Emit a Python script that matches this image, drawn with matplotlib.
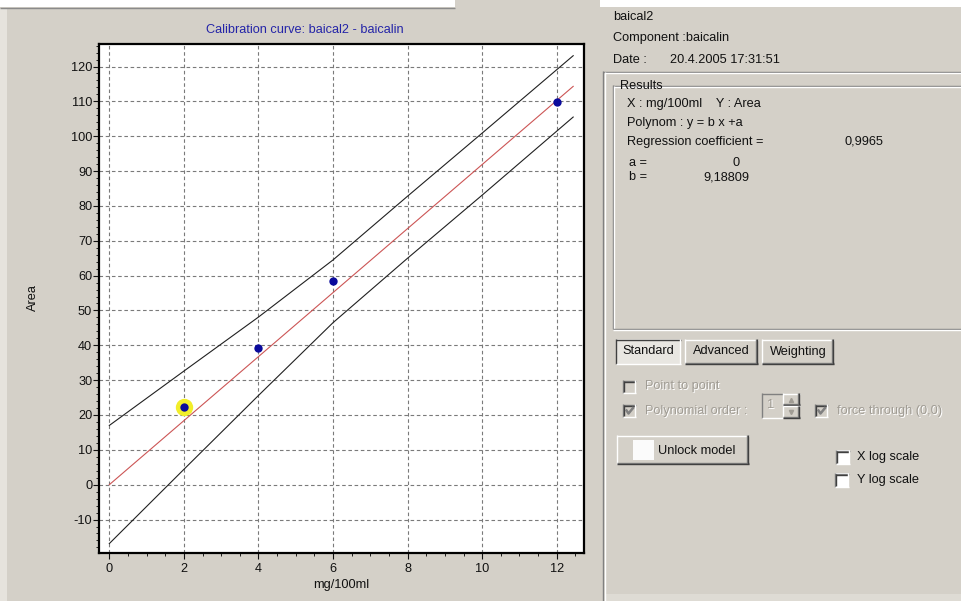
import matplotlib.pyplot as plt
from matplotlib.patches import Rectangle
from matplotlib.ticker import MultipleLocator

plt.rcParams['axes.unicode_minus'] = False

# measured points
conc = [2, 4, 6, 12]
area = [22.3, 39.1, 58.4, 109.7]
selected = 0

# regression line and confidence band
fit_x = [0, 12.44]
fit_y = [0, 114.3]
band_x = [0, 2, 4, 6, 8, 10, 12.44]
band_up = [17.0, 32.6, 48.1, 64.5, 82.8, 100.9, 123.1]
band_lo = [-16.9, 4.4, 25.6, 46.5, 65.0, 83.1, 105.5]

x_ticks = [0, 2, 4, 6, 8, 10, 12]
y_ticks = [-10, 0, 10, 20, 30, 40, 50, 60, 70, 80, 90, 100, 110, 120]

info_lines = ['baical2', 'Component :baicalin', 'Date :']
date_str = '20.4.2005 17:31:51'
results = [('X : mg/100ml    Y : Area', ''),
           ('Polynom : y = b x +a', ''),
           ('Regression coefficient =', '0,9965')]
coef_names = ['a =', 'b =']
coef_vals = ['0', '9,18809']
tabs = ['Standard', 'Advanced', 'Weighting']

BG = '#d4d0c8'
FONT = 'Liberation Sans'
FS = 9.2
W, H = 962, 601

fig = plt.figure(figsize=(W / 100, H / 100), dpi=100, facecolor=BG)

# --- dialog drawn in pixel coordinates ---
ui = fig.add_axes([0, 0, 1, 1])
ui.set_xlim(0, W)
ui.set_ylim(H, 0)
ui.axis('off')


def rect(x0, y0, x1, y1, fc, ec='none', lw=0):
    ui.add_patch(Rectangle((x0, y0), x1 - x0, y1 - y0, facecolor=fc,
                           edgecolor=ec, lw=lw))


def line(xs, ys, c, lw=1):
    ui.plot(xs, ys, color=c, lw=lw, solid_capstyle='butt')


def raised(x0, y0, x1, y1, fc=BG):
    rect(x0, y0, x1, y1, fc)
    line([x0, x1], [y0 + 0.5, y0 + 0.5], 'white')
    line([x0 + 0.5, x0 + 0.5], [y0, y1], 'white')
    line([x0, x1], [y1 - 1.5, y1 - 1.5], '#808080')
    line([x1 - 1.5, x1 - 1.5], [y0, y1], '#808080')
    line([x0, x1], [y1 - 0.5, y1 - 0.5], '#404040')
    line([x1 - 0.5, x1 - 0.5], [y0, y1], '#404040')


def pressed(x0, y0, x1, y1):
    rect(x0, y0, x1, y1, '#e8e6e1')
    line([x0, x1], [y0 + 0.5, y0 + 0.5], '#404040')
    line([x0 + 0.5, x0 + 0.5], [y0, y1], '#404040')
    line([x0, x1], [y1 - 0.5, y1 - 0.5], 'white')
    line([x1 - 0.5, x1 - 0.5], [y0, y1], 'white')


def checkbox(x0, y0, size, enabled=True, checked=False):
    rect(x0, y0, x0 + size, y0 + size, 'white' if enabled else BG)
    line([x0, x0 + size], [y0 + 0.5, y0 + 0.5], '#808080')
    line([x0 + 0.5, x0 + 0.5], [y0, y0 + size], '#808080')
    line([x0 + 1, x0 + size - 1], [y0 + 1.5, y0 + 1.5], '#404040')
    line([x0 + 1.5, x0 + 1.5], [y0 + 1, y0 + size - 1], '#404040')
    line([x0, x0 + size], [y0 + size - 0.5, y0 + size - 0.5], 'white')
    line([x0 + size - 0.5, x0 + size - 0.5], [y0, y0 + size], 'white')
    if checked:
        c = 'black' if enabled else '#808080'
        ui.plot([x0 + 3.5, x0 + 5.5, x0 + 10], [y0 + 6.5, y0 + 9.5, y0 + 4],
                color=c, lw=1.8)


def label(x, y, s, enabled=True, **kw):
    if not enabled:
        ui.text(x + 1, y + 1, s, fontsize=FS, family=FONT, color='white',
                va='center', **kw)
        ui.text(x, y, s, fontsize=FS, family=FONT, color='#a09c94',
                va='center', **kw)
    else:
        ui.text(x, y, s, fontsize=FS, family=FONT, color='#111111',
                va='center', **kw)


# top white strip and thin frame line
rect(0, 0, 455, 7, 'white')
rect(600, 0, W, 7, 'white')
line([0, 455], [7.5, 7.5], '#8a8a8a')
rect(0, 8, 7, H, '#e6e3dd')

# chart title and axis titles
ui.text(305, 30, 'Calibration curve: baical2 - baicalin', fontsize=FS,
        family=FONT, color='#2424a8', ha='center', va='center')
ui.text(33, 298, 'Area', fontsize=FS, family=FONT, rotation=90,
        ha='center', va='center', color='#111111')
ui.text(341, 585, 'mg/100ml', fontsize=FS, family=FONT,
        ha='center', va='center', color='#111111')

# right panel header
for i, s in enumerate(info_lines):
    label(613, 17 + i * 21.5, s)
label(670, 60, date_str)

# panel border
line([603, W], [71.5, 71.5], '#808080')
line([605, W], [72.5, 72.5], 'white')
line([603.5, 603.5], [71, H], '#808080')
line([605, 605], [72, H], 'white')
rect(606, 594, W, H, '#dedbd4')

# results group box
line([613, W], [85.5, 85.5], '#808080')
line([614, W], [86.5, 86.5], 'white')
line([613.5, 613.5], [85, 329], '#808080')
line([614.5, 614.5], [86, 329], 'white')
line([613, W], [328.5, 328.5], '#808080')
line([613, W], [329.5, 329.5], 'white')
rect(618, 80, 656, 92, BG)
label(620, 86, 'Results')
for i, (s, v) in enumerate(results):
    label(627, 104 + i * 19, s)
    if v:
        label(845, 104 + i * 19, v)
for i, (n, v) in enumerate(zip(coef_names, coef_vals)):
    label(629, 163 + i * 14.5, n)
    label(733 if v == '0' else 703, 163 + i * 14.5, v)

# tab buttons
tab_x = [(616, 681), (685, 758), (762, 834)]
for i, (name, (x0, x1)) in enumerate(zip(tabs, tab_x)):
    if i == 0:
        pressed(x0, 339, x1, 364)
    else:
        raised(x0, 339, x1, 364)
    label((x0 + x1) / 2, 351.5, name, ha='center')

# disabled options
checkbox(623, 380, 13, enabled=False)
label(645, 386, 'Point to point', enabled=False)
checkbox(623, 404, 13, enabled=False, checked=True)
label(645, 411, 'Polynomial order :', enabled=False)
rect(762, 393, 783, 418, BG)
line([762, 783], [393.5, 393.5], '#808080')
line([762.5, 762.5], [393, 418], '#808080')
line([762, 783], [417.5, 417.5], 'white')
label(767, 405, '1', enabled=False)
raised(783, 393, 800, 405.5)
raised(783, 405.5, 800, 418)
ui.plot([791.5], [399.5], marker='^', ms=3, color='#a09c94')
ui.plot([791.5], [411.5], marker='v', ms=3, color='#a09c94')
checkbox(815, 404, 13, enabled=False, checked=True)
label(837, 411, 'force through (0,0)', enabled=False)

# unlock button
raised(617, 435, 749, 464)
rect(633, 440, 654, 460, '#fbfbfb')
label(658, 451, 'Unlock model')

# log scale boxes
checkbox(836, 450, 14)
label(857, 457, 'X log scale')
checkbox(835, 473, 14)
label(857, 480, 'Y log scale')

# --- the calibration chart ---
left, right, top, bottom = 98.5, 584, 43.5, 553
ax = fig.add_axes([left / W, 1 - bottom / H, (right - left) / W,
                   (bottom - top) / H])
ax.set_facecolor('white')
ax.set_xlim(-0.29, 12.73)
ax.set_ylim(-19.6, 126.6)
ax.set_xticks(x_ticks)
ax.set_yticks(y_ticks)
ax.xaxis.set_minor_locator(MultipleLocator(0.5))
ax.yaxis.set_minor_locator(MultipleLocator(2))
ax.tick_params(which='major', length=4, width=0.8, direction='out',
               labelsize=FS, pad=3, colors='#111111')
ax.tick_params(axis='y', which='major', pad=0.5)
ax.tick_params(which='minor', length=2.2, width=0.6, direction='out')
for lab in ax.get_xticklabels() + ax.get_yticklabels():
    lab.set_family(FONT)
for s in ax.spines.values():
    s.set_linewidth(1.6)
    s.set_color('black')
ax.grid(True, which='major', color='#7a7a7a', lw=0.8,
        linestyle=(0, (3.2, 2.4)))
ax.set_axisbelow(True)

ax.plot(band_x, band_up, color='#202020', lw=0.8)
ax.plot(band_x, band_lo, color='#202020', lw=0.8)
ax.plot(fit_x, fit_y, color='#cc5555', lw=0.8)
ax.plot(conc[selected], area[selected], 'o', ms=12.5, color='#f2ee2a',
        markeredgewidth=0)
ax.plot(conc, area, 'o', ms=6, color='#0a0a9c', markeredgewidth=0)

fig.savefig('out.png', dpi=100, facecolor=BG)
